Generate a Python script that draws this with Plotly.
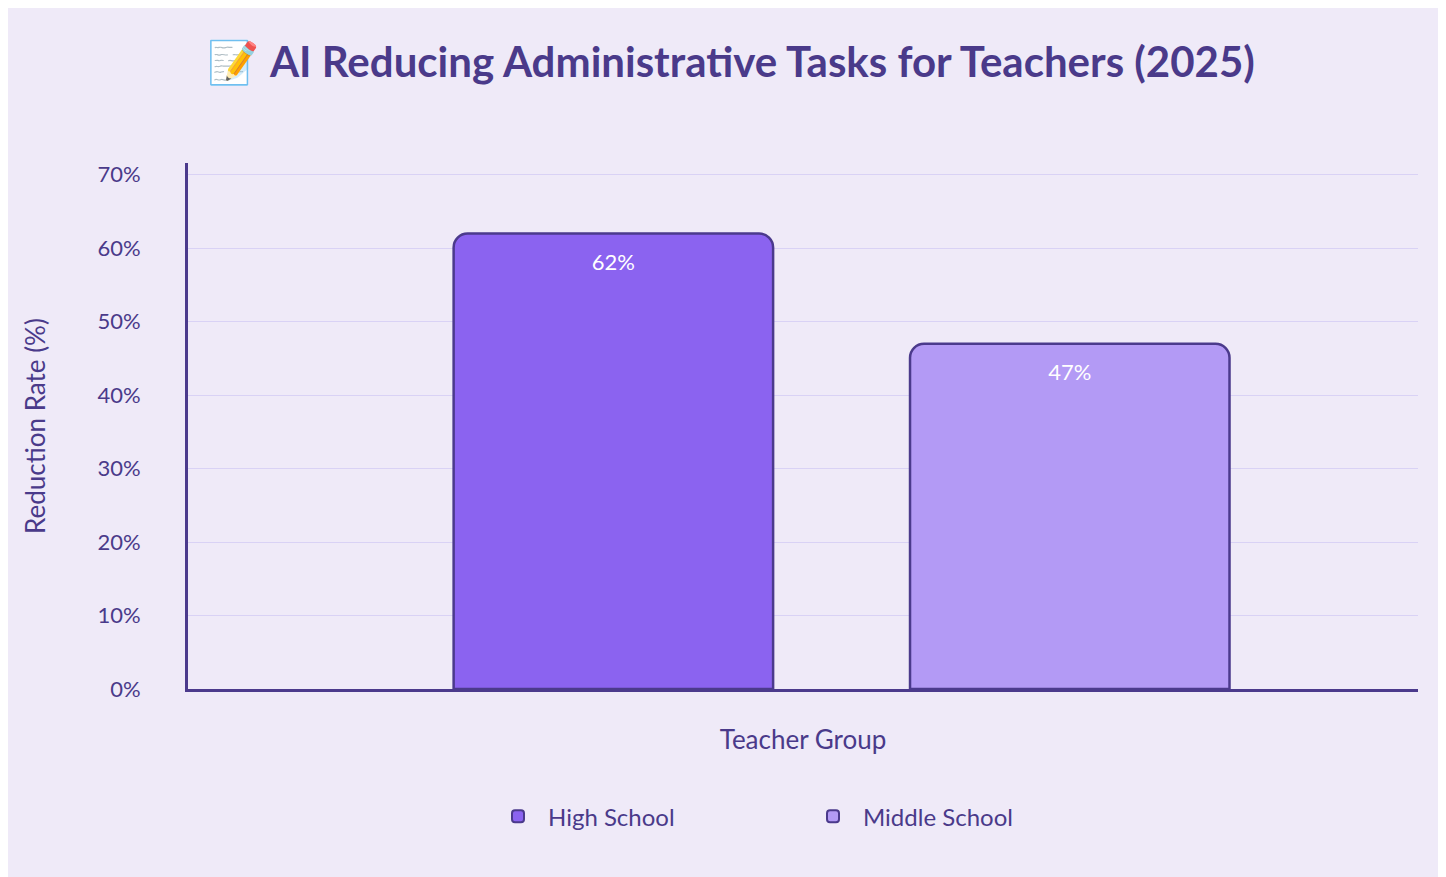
import plotly.graph_objects as go

# Data
groups = ["High School", "Middle School"]
reduction = [62, 47]
bar_colors = ["#8b63f0", "#b39af5"]
tick_vals = [0, 10, 20, 30, 40, 50, 60, 70]
tick_text = ["0%", "10%", "20%", "30%", "40%", "50%", "60%", "70%"]

fig = go.Figure()

for g, v, c in zip(groups, reduction, bar_colors):
    fig.add_trace(go.Bar(
        x=[g], y=[v], name=g, width=0.70,
        marker=dict(color=c, line=dict(color="#4b3a8c", width=2.5), cornerradius=14),
        text=[f"{v}%"], textposition="inside", insidetextanchor="end",
        textfont=dict(color="white", size=22),
    ))

fig.update_layout(
    title=dict(text="📝 <b>AI Reducing Administrative Tasks for Teachers (2025)</b>",
               x=0.5, y=0.955, xanchor="center",
               font=dict(size=42, color="#4a3a8a", family="Lato")),
    font=dict(family="Lato", color="#4a3a8a"),
    paper_bgcolor="#efeaf8",
    plot_bgcolor="#efeaf8",
    width=1446, height=877,
    margin=dict(l=180, r=36, t=155, b=196),
    barmode="overlay",
    showlegend=True,
    legend=dict(orientation="h", x=0.5, xanchor="center", y=-0.2, yanchor="top",
                font=dict(size=24, color="#4a3a8a"), itemwidth=50, itemsizing="constant",
                traceorder="normal", entrywidth=250),
    xaxis=dict(title=dict(text="Teacher Group", font=dict(size=26), standoff=40),
               range=[-0.932, 1.763],
               showticklabels=False, showline=True, linecolor="#4b3a8c", linewidth=3,
               showgrid=False),
    yaxis=dict(title=dict(text="Reduction Rate (%)", font=dict(size=26), standoff=45),
               range=[0, 71.6], tickvals=tick_vals, ticktext=tick_text,
               tickfont=dict(size=22, color="#4a3a8a"),
               showline=True, linecolor="#4b3a8c", linewidth=3,
               gridcolor="#d9d2f5", zeroline=False, ticks="outside",
               tickcolor="rgba(0,0,0,0)", ticklen=40),
)

fig.write_html("out.html")
